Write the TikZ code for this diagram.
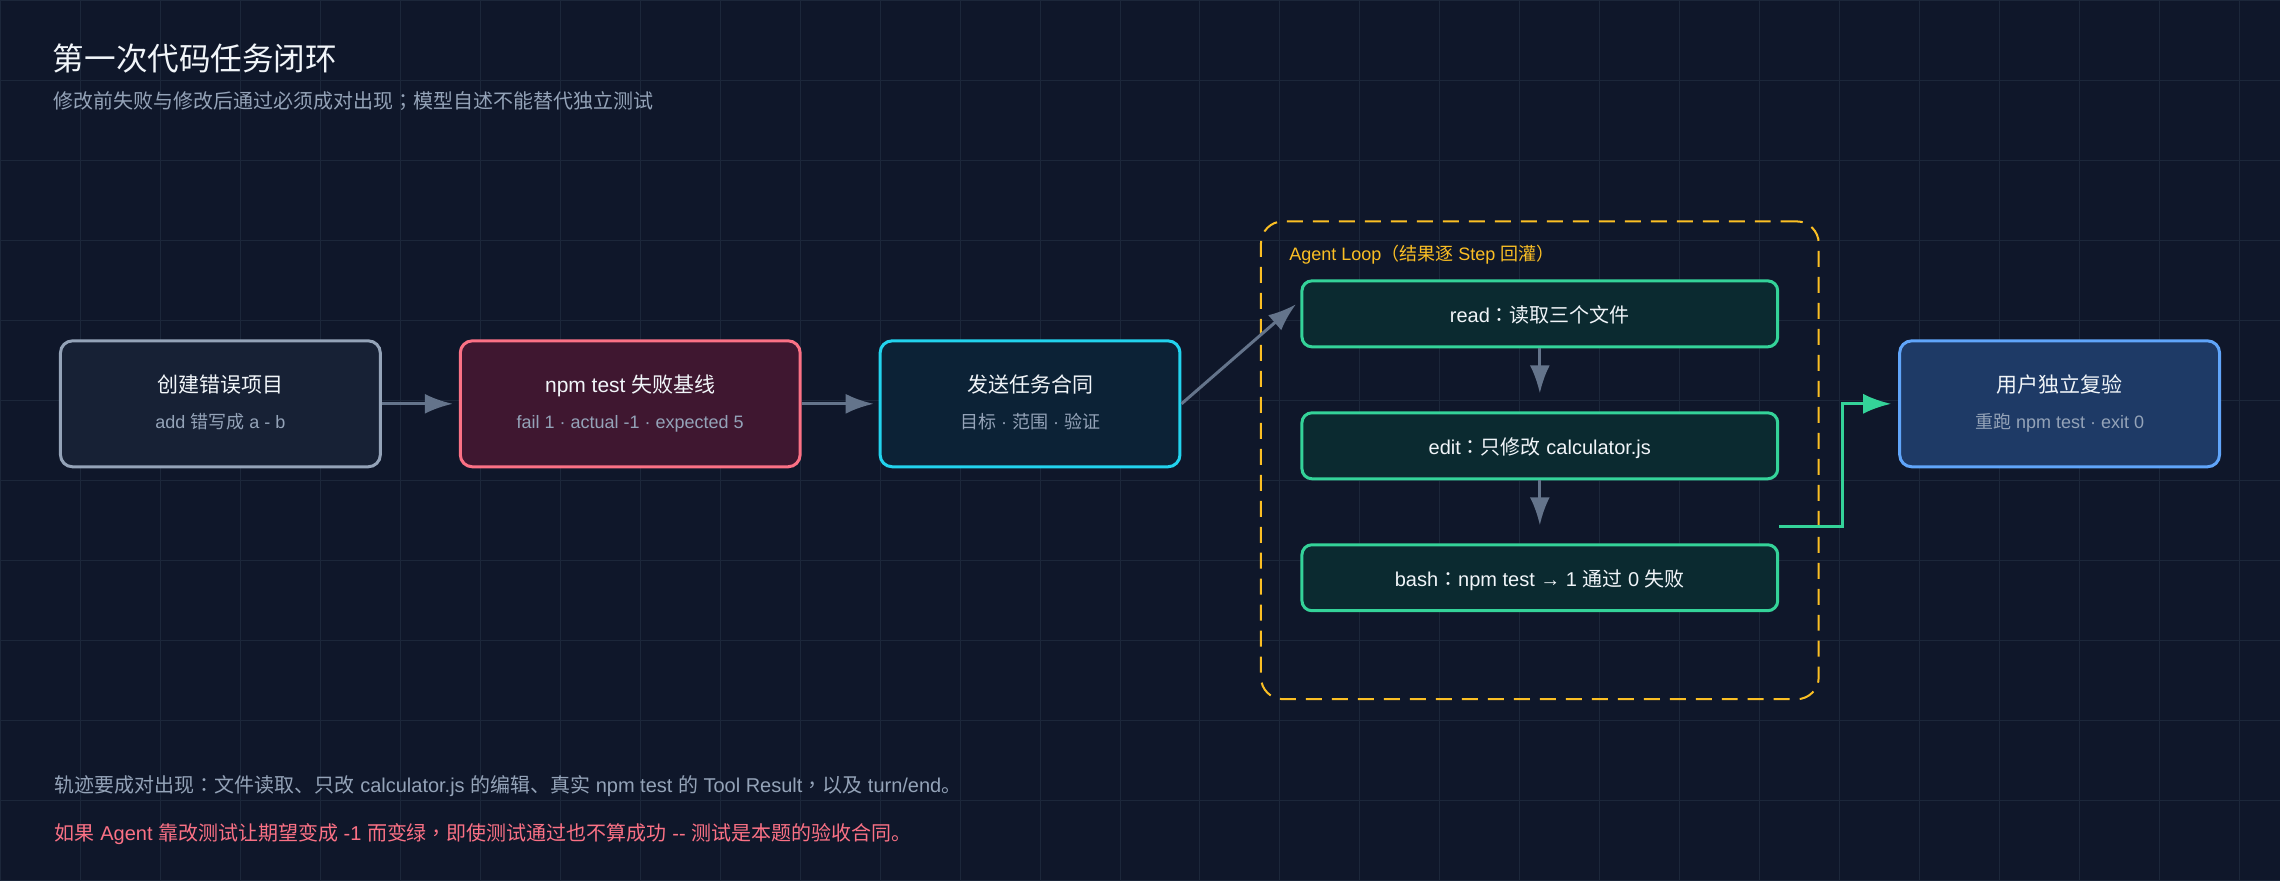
\documentclass[tikz,border=0pt]{standalone}
\usepackage{fontspec}
\setmainfont{Liberation Sans}
\newfontfamily\zhfont{Noto Sans CJK SC}
\newfontfamily\zhpunct{Noto Sans CJK TC}
\newcommand\zh[1]{{\zhfont #1}}
\newcommand\zp[1]{{\zhpunct #1}}
\usetikzlibrary{arrows.meta}
\begin{document}
\begin{tikzpicture}[x=0.5pt,y=0.5pt,
  stagebox/.style={draw,rounded corners=6pt,line width=1.5pt,minimum height=63pt,inner sep=0pt},
  headtext/.style={anchor=base,inner sep=0pt,text=headwhite,font=\fontsize{10.5}{12}\selectfont},
  subtext/.style={anchor=base,inner sep=0pt,text=subgray,font=\fontsize{9}{11}\selectfont},
  stepbox/.style={draw=passline,fill=stepfill,rounded corners=5pt,line width=1.5pt,minimum width=238pt,minimum height=33pt,
    inner sep=0pt,text=headwhite,text height=9pt,text depth=0.5pt,font=\fontsize{10}{12}\selectfont},
  flow/.style={draw=flowgray,line width=1.5pt,-{Latex[length=14pt,width=10pt]}},
  note/.style={anchor=base west,inner sep=0pt,font=\fontsize{10}{12}\selectfont}]
  \definecolor{canvas}{HTML}{0F172A}
  \definecolor{gridln}{HTML}{1C273A}
  \definecolor{headwhite}{HTML}{F1F5F9}
  \definecolor{subgray}{HTML}{94A3B8}
  \definecolor{flowgray}{HTML}{64748B}
  \definecolor{setupfill}{HTML}{172135}
  \definecolor{setupline}{HTML}{94A3B8}
  \definecolor{failfill}{HTML}{3F1730}
  \definecolor{failline}{HTML}{FB7185}
  \definecolor{taskfill}{HTML}{0C2236}
  \definecolor{taskline}{HTML}{22D3EE}
  \definecolor{checkfill}{HTML}{1E3A66}
  \definecolor{checkline}{HTML}{60A5FA}
  \definecolor{stepfill}{HTML}{0B2A30}
  \definecolor{passline}{HTML}{34D399}
  \definecolor{loopline}{HTML}{FBBF24}
  \fill [canvas] (0,0) rectangle (2280,-880);
  \draw [gridln,line width=0.5pt,step=40pt] (0,-880) grid (2280,0);
  \node [anchor=base west,inner sep=0pt,text=headwhite,font=\fontsize{15.8}{18}\selectfont] (title) at (52,-70) {\zh{第一次代码任务闭环}};
  \node [anchor=base west,inner sep=0pt,text=subgray,font=\fontsize{10}{12}\selectfont] (subtitle) at (53,-108.5) {\zh{修改前失败与修改后通过必须成对出现}\zp{；}\zh{模型自述不能替代独立测试}};
  \node [stagebox,draw=setupline,fill=setupfill,minimum width=160pt] (setup) at (220,-403.5) {};
  \node [headtext] (setuphead) at ([yshift=5.75pt]setup.center) {\zh{创建错误项目}};
  \node [subtext] (setupsub) at ([yshift=-12.25pt]setup.center) {add \zh{错写成} a - b};
  \node [stagebox,draw=failline,fill=failfill,minimum width=170pt] (baseline) at (630,-403.5) {};
  \node [headtext] (baselinehead) at ([yshift=5.75pt]baseline.center) {npm test \zh{失败基线}};
  \node [subtext] (baselinesub) at ([yshift=-12.25pt]baseline.center) {fail 1 · actual -1 · expected 5};
  \node [stagebox,draw=taskline,fill=taskfill,minimum width=150pt] (contract) at (1030,-403.5) {};
  \node [headtext] (contracthead) at ([yshift=5.75pt]contract.center) {\zh{发送任务合同}};
  \node [subtext] (contractsub) at ([yshift=-12.25pt]contract.center) {\zh{目标} · \zh{范围} · \zh{验证}};
  \node [stagebox,draw=checkline,fill=checkfill,minimum width=160pt] (review) at (2060,-403.5) {};
  \node [headtext] (reviewhead) at ([yshift=5.75pt]review.center) {\zh{用户独立复验}};
  \node [subtext] (reviewsub) at ([yshift=-12.25pt]review.center) {\zh{重跑} npm test · exit 0};
  \node [draw=loopline,line width=1pt,dash pattern=on 8pt off 5pt,rounded corners=11pt,minimum width=279pt,minimum height=239pt] (loop) at (1540,-460) {};
  \node [anchor=base west,inner sep=0pt,text=loopline,font=\fontsize{9}{11}\selectfont] (looplabel) at (1289,-260) {Agent Loop\zp{（}\zh{结果逐} Step \zh{回灌}\zp{）}};
  \node [stepbox] (read) at (1540,-313.5) {read\zp{：}\zh{读取三个文件}};
  \node [stepbox] (edit) at (1540,-445.5) {edit\zp{：}\zh{只修改} calculator.js};
  \node [stepbox] (bash) at (1540,-577.5) {bash\zp{：}npm test → 1 \zh{通过} 0 \zh{失败}};
  \draw [flow,shorten >=3pt] (setup.east) -- (baseline.west);
  \draw [flow,shorten >=2.5pt] (baseline.east) -- (contract.west);
  \draw [flow,shorten >=3pt] (contract.east) -- ([yshift=6.75pt]read.west);
  \draw [flow,shorten >=9pt] (read.south) -- (edit.north);
  \draw [flow,shorten >=9pt] (edit.south) -- (bash.north);
  \draw [flow,draw=passline,shorten >=3.5pt] ([yshift=8.25pt]bash.north east) -- ++(63,0) |- (review.west);
  \node [note,text=subgray] (tracenote) at (54,-792) {\zh{轨迹要成对出现}\zp{：}\zh{文件读取、只改} calculator.js \zh{的编辑、真实} npm test \zh{的} Tool Result\zp{，}\zh{以及} turn/end\zh{。}};
  \node [note,text=failline] (cheatnote) at (54,-840) {\zh{如果} Agent \zh{靠改测试让期望变成} -1 \zh{而变绿}\zp{，}\zh{即使测试通过也不算成功} -{}- \zh{测试是本题的验收合同。}};
\end{tikzpicture}
\end{document}
